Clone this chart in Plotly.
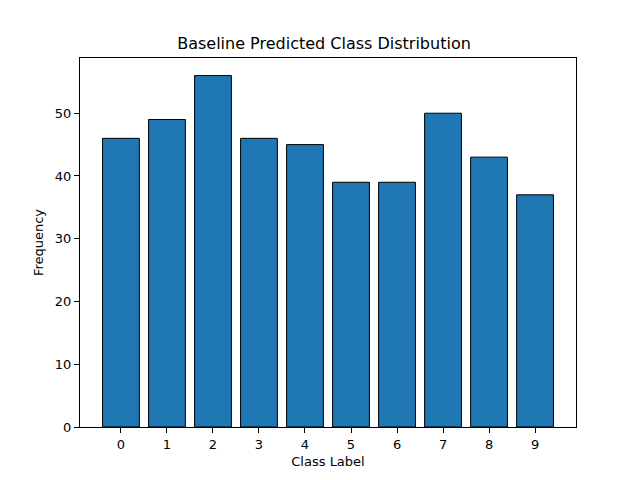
import plotly.graph_objects as go

# predicted class counts
classes = [0, 1, 2, 3, 4, 5, 6, 7, 8, 9]
counts = [46, 49, 56, 46, 45, 39, 39, 50, 43, 37]

fig = go.Figure()

fig.add_trace(
    go.Bar(
        x=classes,
        y=counts,
        width=0.8,
        marker=dict(color="#1f77b4", line=dict(color="black", width=1)),
    )
)

axis_style = dict(
    showline=True,
    linecolor="black",
    linewidth=1,
    mirror=True,
    ticks="outside",
    ticklen=5,
    tickcolor="black",
    showgrid=False,
    zeroline=False,
    tickfont=dict(size=13, color="black"),
)

# page body adds an 8px offset, so the figure is a bit smaller
fig.update_layout(
    title=dict(
        text="Baseline Predicted Class Distribution",
        x=0.5,
        xanchor="center",
        y=1 - 35 / 472,
        yanchor="middle",
        font=dict(size=16, color="black"),
    ),
    font=dict(family="DejaVu Sans", color="black"),
    width=632,
    height=472,
    margin=dict(l=72, r=64, t=50, b=53),
    plot_bgcolor="white",
    paper_bgcolor="white",
    showlegend=False,
    xaxis=dict(
        axis_style,
        range=[-0.89, 9.89],
        tickvals=classes,
        title=dict(text="Class Label", font=dict(size=13), standoff=6),
    ),
    yaxis=dict(
        axis_style,
        range=[0, 58.8],
        tickvals=[0, 10, 20, 30, 40, 50],
        title=dict(text="Frequency", font=dict(size=13), standoff=8),
    ),
)

fig.write_html("out.html")
